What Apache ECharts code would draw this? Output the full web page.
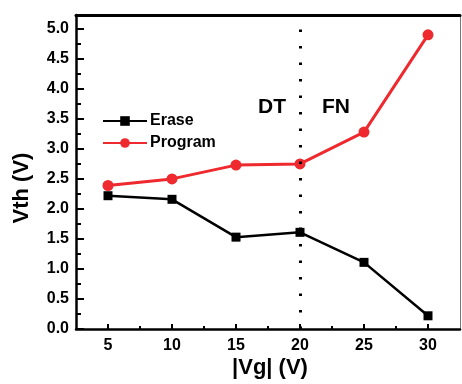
<!DOCTYPE html>
<html><head><meta charset="utf-8">
<script src="https://cdn.jsdelivr.net/npm/echarts@6/dist/echarts.min.js"></script>
<style>html,body{margin:0;padding:0;background:#fff}#c{width:462px;height:384px}</style>
</head><body><div id="c"></div>
<script>
const vg = [5, 10, 15, 20, 25, 30];
const erase = [2.22, 2.16, 1.53, 1.61, 1.11, 0.22];
const program = [2.39, 2.50, 2.73, 2.75, 3.28, 4.90];
const xMinorTicks = [7.5, 12.5, 17.5, 22.5, 27.5];
const boundaryX = 20;
const regionLabels = ['DT', 'FN'];

const font = '"Liberation Sans", Arial, sans-serif';
const chart = echarts.init(document.getElementById('c'));
chart.setOption({
  animation: false,
  grid: {left: 76, top: 15, right: 2, bottom: 55},
  legend: {
    orient: 'vertical', left: 97, top: 108, itemWidth: 44, itemHeight: 12, itemGap: 6,
    textStyle: {fontFamily: font, fontWeight: 'bold', fontSize: 16, color: '#000', padding: [0,0,0,-2]},
    data: ['Erase', 'Program']
  },
  xAxis: [{
    type: 'value', min: 2.5, max: 32.5,
    axisLine: {lineStyle: {color: '#000', width: 2.5}},
    axisTick: {inside: true, length: 5, customValues: vg, lineStyle: {color: '#000', width: 2}},
    axisLabel: {customValues: vg, fontFamily: font, fontWeight: 'bold', fontSize: 16, color: '#000', margin: 9},
    splitLine: {show: false}
  }, {
    type: 'value', min: 2.5, max: 32.5, position: 'bottom',
    axisLine: {show: false},
    axisTick: {inside: true, length: 3, customValues: xMinorTicks, lineStyle: {color: '#000', width: 2}},
    axisLabel: {show: false}, splitLine: {show: false}
  }, {
    type: 'value', min: 2.5, max: 32.5, position: 'top',
    axisLine: {lineStyle: {color: '#000', width: 3}},
    axisLabel: {show: false}, axisTick: {show: false}, splitLine: {show: false}
  }],
  yAxis: [{
    type: 'value', min: 0, max: 5.23, interval: 0.5,
    axisLine: {lineStyle: {color: '#000', width: 2.5}},
    axisTick: {inside: true, length: 8, lineStyle: {color: '#000', width: 2}},
    minorTick: {show: true, splitNumber: 2, length: 5, lineStyle: {color: '#000', width: 2}},
    axisLabel: {fontFamily: font, fontWeight: 'bold', fontSize: 16, color: '#000', margin: 7,
      showMaxLabel: false,
      formatter: v => v <= 5 ? v.toFixed(1) : ''},
    splitLine: {show: false}
  }, {
    type: 'value', min: 0, max: 5.23, position: 'right',
    axisLine: {show: true, lineStyle: {color: '#777', width: 1}},
    axisLabel: {show: false}, axisTick: {show: false}, splitLine: {show: false}
  }],
  series: [
    {name: 'Erase', type: 'line', data: vg.map((x, i) => [x, erase[i]]),
      symbol: 'rect', symbolSize: 9, itemStyle: {color: '#000'},
      lineStyle: {color: '#000', width: 2.5}},
    {name: 'Program', type: 'line', data: vg.map((x, i) => [x, program[i]]),
      symbol: 'circle', symbolSize: 11, itemStyle: {color: '#ee2a2f'},
      lineStyle: {color: '#ee2a2f', width: 3},
      markLine: {silent: true, symbol: 'none', label: {show: false},
        lineStyle: {color: '#000', width: 3, type: [2.5, 14]},
        data: [{xAxis: boundaryX}]}}
  ],
  graphic: [
    {type: 'text', left: 258, top: 97, style: {text: regionLabels[0], font: 'bold 21px ' + font, fill: '#000'}},
    {type: 'text', left: 322, top: 97, style: {text: regionLabels[1], font: 'bold 21px ' + font, fill: '#000'}},
    {type: 'text', x: 270, y: 368, style: {text: '|Vg| (V)', font: 'bold 22px ' + font, fill: '#000', align: 'center', verticalAlign: 'middle'}},
    {type: 'text', x: 22, y: 188, rotation: Math.PI / 2, style: {text: 'Vth (V)', font: 'bold 22px ' + font, fill: '#000', align: 'center', verticalAlign: 'middle'}}
  ]
});
</script></body></html>
